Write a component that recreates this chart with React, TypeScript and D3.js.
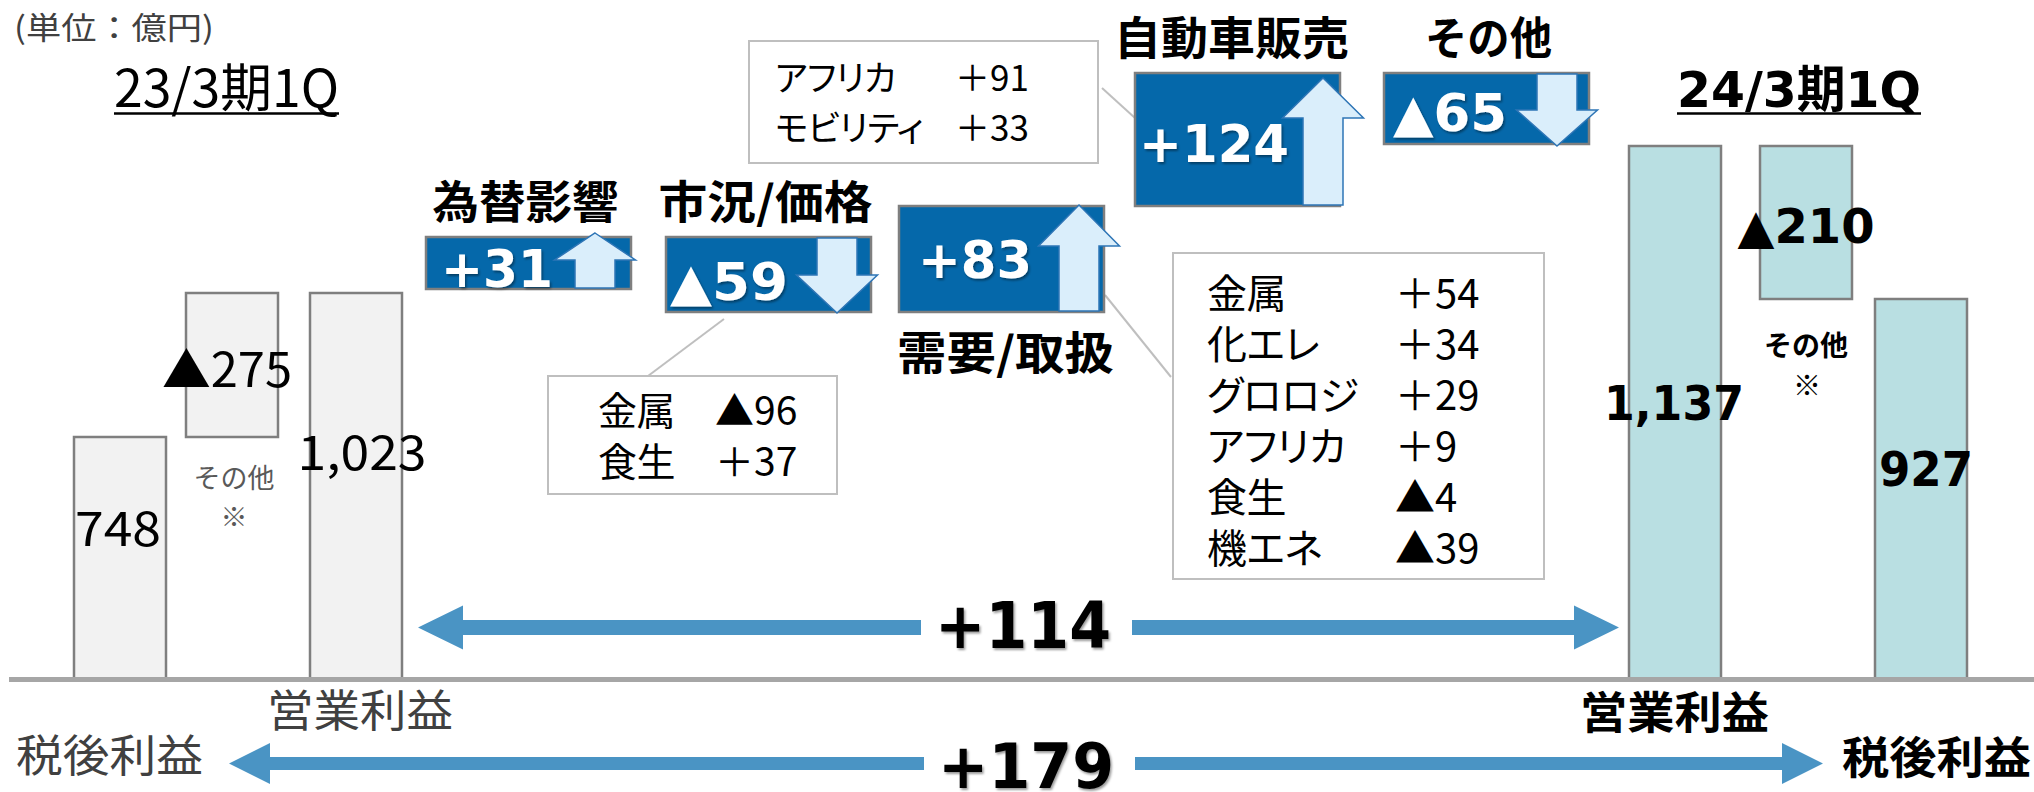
import React from 'react'
import * as d3 from 'd3'

const W = 2034
const H = 792

// labels
const unitLabel = '(単位：億円)'
const periodLabels = ['23/3期1Q', '24/3期1Q']
const metricLabels = ['営業利益', '税後利益']
const otherLabel = 'その他'
const noteMark = '※'

// waterfall bars (億円)
const barKeys = ['tax23', 'other23', 'op23', 'op24', 'other24', 'tax24']
const barFrom = [0, 748, 0, 0, 927, 0]
const barTo = [748, 1023, 1023, 1137, 1137, 927]
const barIsDelta = [false, true, false, false, true, false]

// 営業利益 増減要因
const factorNames = ['為替影響', '市況/価格', '需要/取扱', '自動車販売', 'その他']
const factorValues = [31, -59, 83, 124, -65]

// 内訳
const priceItems = ['金属', '食生']
const priceValues = [-96, 37]
const volumeItems = ['金属', '化エレ', 'グロロジ', 'アフリカ', '食生', '機エネ']
const volumeValues = [54, 34, 29, 9, -4, -39]
const autoItems = ['アフリカ', 'モビリティ']
const autoValues = [91, 33]

const JP = '"Noto Sans CJK JP", sans-serif'
const BOLD = '"DejaVu Sans", "Noto Sans CJK JP", sans-serif'

const BOX_BLUE = '#0568aa'
const BOX_STROKE = '#7f7f7f'
const ARROW_FILL = '#daeefb'
const ARROW_STROKE = '#2e75b6'
const BIG_ARROW = '#4a94c4'
const CALLOUT_STROKE = '#bfbfbf'

const fmt = d3.format(',')
const signed = (v: number) => (v < 0 ? '▲' : '+') + fmt(Math.abs(v))
const signedWide = (v: number) => (v < 0 ? '▲' : '＋') + fmt(Math.abs(v))

const line = d3.line()

// block arrow, vertical (tip above base = up arrow)
function blockArrow(cx: number, tipY: number, baseY: number, endY: number, shaftW = 40, headW = 81) {
  return line([
    [cx, tipY], [cx + headW / 2, baseY], [cx + shaftW / 2, baseY], [cx + shaftW / 2, endY],
    [cx - shaftW / 2, endY], [cx - shaftW / 2, baseY], [cx - headW / 2, baseY],
  ]) + 'Z'
}

// two-headed horizontal arrow with a gap in the middle for the label
function splitArrow(x1: number, x2: number, cy: number, gap0: number, gap1: number, headLen: number, headHalf: number, shaftHalf: number) {
  const left = line([
    [x1, cy], [x1 + headLen, cy - headHalf], [x1 + headLen, cy - shaftHalf], [gap0, cy - shaftHalf],
    [gap0, cy + shaftHalf], [x1 + headLen, cy + shaftHalf], [x1 + headLen, cy + headHalf],
  ])
  const right = line([
    [x2, cy], [x2 - headLen, cy - headHalf], [x2 - headLen, cy - shaftHalf], [gap1, cy - shaftHalf],
    [gap1, cy + shaftHalf], [x2 - headLen, cy + shaftHalf], [x2 - headLen, cy + headHalf],
  ])
  return left + 'Z' + right + 'Z'
}

const Callout = ({ items, values, box, labelX, valueX, baseline, step, size, from, to }: any) => (
  <g>
    <line x1={from[0]} y1={from[1]} x2={to[0]} y2={to[1]} stroke={CALLOUT_STROKE} strokeWidth={2} />
    <rect x={box[0]} y={box[1]} width={box[2]} height={box[3]} fill="#fff" stroke={CALLOUT_STROKE} strokeWidth={2} />
    {items.map((name: string, i: number) => (
      <g key={name + i} fontSize={size} fill="#000">
        <text x={labelX} y={baseline + i * step} style={{ fontFeatureSettings: '"palt"' }} letterSpacing={-0.5}>{name}</text>
        <text x={valueX} y={baseline + i * step}>{signedWide(values[i])}</text>
      </g>
    ))}
  </g>
)

export default function App() {
  // bar scales
  const yDomain = Array.from(new Set([...barFrom, ...barTo])).sort(d3.ascending)
  const yBar = d3.scaleLinear().domain(yDomain).range([679, 437, 299, 293, 146])
  const xBar = d3.scaleOrdinal<string, number>().domain(barKeys).range([74, 186, 310, 1629, 1760, 1875])
  const barW = 92
  const labelDx = [-2, -5, 6, -1, 0, 5]
  const labelDy = [-12, 22, -16, 7.5, 20.5, -3]
  const labelLen = [86, 130, 129, 140, 137, 94]

  // floating factor boxes (cumulative waterfall)
  const levels = [0, ...Array.from(d3.cumsum(factorValues))]
  const levelPx = [289, 237, 312, 206, 73, 144]
  const order = d3.range(levels.length).sort((a, b) => levels[a] - levels[b])
  const yFactor = d3.scaleLinear().domain(order.map(i => levels[i])).range(order.map(i => levelPx[i]))
  const xFactor = d3.scaleOrdinal<string, number>().domain(factorNames).range([426, 666, 899, 1135, 1384])
  const boxW = 205
  const titleBelow = [false, false, true, false, false]
  const titleDx = [-3, -3, 4, -6, 2]
  const titleLen = [186, 214, 217, 235, 127]
  const valueDx = [15, 4, 19, 4, 9]
  const valueDy = [24, 25.5, 19, 22.5, 22.5]
  const valueLen = [112, 118, 114, 150, 114]
  const arrowInset = [36, 34, 25, 17, 32]
  const arrowHead = [27, 38, 41, 40, 36]
  const arrowOver = [4, 1, 1, -5, 2]

  const opDiff = barTo[3] - barTo[2]
  const taxDiff = barTo[5] - barTo[0]
  const baseY = yBar(0)

  return (
    <svg width={W} height={H} style={{ position: 'absolute', left: 0, top: 0, background: '#fff' }} fontFamily={JP}>
      <defs>
        <filter id="shadow" x="-10%" y="-20%" width="130%" height="150%">
          <feDropShadow dx="1.5" dy="2" stdDeviation="1" floodColor="#000" floodOpacity="0.4" />
        </filter>
      </defs>

      <text x={14} y={39} fontSize={31} fill="#404040" textLength={200} lengthAdjust="spacingAndGlyphs">{unitLabel}</text>

      {/* period headers */}
      <text x={114} y={107} fontSize={52} textLength={225} lengthAdjust="spacingAndGlyphs">{periodLabels[0]}</text>
      <line x1={114} x2={339} y1={113.5} y2={113.5} stroke="#000" strokeWidth={2.5} />
      <text x={1677} y={107} fontSize={50} fontWeight={700} fontFamily={BOLD} textLength={244} lengthAdjust="spacingAndGlyphs">{periodLabels[1]}</text>
      <line x1={1677} x2={1921} y1={113.5} y2={113.5} stroke="#000" strokeWidth={2.5} />

      {/* big difference arrows */}
      <path d={splitArrow(xBar('op23') + barW + 16, xBar('op24') - 10, 627.5, 921, 1132, 45, 22, 7.5)} fill={BIG_ARROW} />
      <text x={1023} y={648} textAnchor="middle" fontFamily={BOLD} fontWeight={700} fontSize={64} textLength={176} lengthAdjust="spacingAndGlyphs" filter="url(#shadow)">{signed(opDiff)}</text>
      <path d={splitArrow(229, 1823, 763.5, 924, 1135, 41, 20.5, 6.5)} fill={BIG_ARROW} />
      <text x={1026} y={788} textAnchor="middle" fontFamily={BOLD} fontWeight={700} fontSize={63} textLength={176} lengthAdjust="spacingAndGlyphs" filter="url(#shadow)">{signed(taxDiff)}</text>

      {/* bars */}
      {barKeys.map((k, i) => {
        const right = i >= 3
        const y0 = yBar(barTo[i])
        const y1 = yBar(barFrom[i])
        const cx = xBar(k) + barW / 2
        const label = barIsDelta[i] ? '▲' + fmt(barTo[i] - barFrom[i]) : fmt(barTo[i])
        return (
          <g key={k}>
            <rect x={xBar(k)} y={y0} width={barW} height={y1 - y0} fill={right ? '#b9dfe2' : '#f2f2f2'} stroke={BOX_STROKE} strokeWidth={2.5} />
            <text x={cx + labelDx[i]} y={(y0 + y1) / 2 + labelDy[i]} textAnchor="middle"
              fontSize={48} fontFamily={right ? BOLD : JP} fontWeight={right ? 700 : 400}
              textLength={labelLen[i]} lengthAdjust="spacingAndGlyphs">{label}</text>
            {barIsDelta[i] && (
              <g textAnchor="middle" fontWeight={right ? 700 : 400} fill={right ? '#000' : '#595959'} fontSize={right ? 28 : 27}>
                <text x={cx + (right ? 0 : 2)} y={y1 + (right ? 57 : 51)}>{otherLabel}</text>
                <text x={cx + (right ? 1 : 2)} y={y1 + (right ? 97 : 90)}>{noteMark}</text>
              </g>
            )}
          </g>
        )
      })}
      <line x1={9} x2={W} y1={baseY + 0.5} y2={baseY + 0.5} stroke="#a6a6a6" strokeWidth={5} />

      {/* bottom metric labels */}
      <text x={360} y={727} textAnchor="middle" fontSize={44} fill="#404040" textLength={186} lengthAdjust="spacingAndGlyphs">{metricLabels[0]}</text>
      <text x={16} y={772} fontSize={44} fill="#404040" textLength={187} lengthAdjust="spacingAndGlyphs">{metricLabels[1]}</text>
      <text x={1674.5} y={729} textAnchor="middle" fontSize={44} fontWeight={700} textLength={189} lengthAdjust="spacingAndGlyphs">{metricLabels[0]}</text>
      <text x={1842} y={774} fontSize={44} fontWeight={700} textLength={189} lengthAdjust="spacingAndGlyphs">{metricLabels[1]}</text>

      {/* callouts */}
      <Callout items={priceItems} values={priceValues} box={[548, 376, 289, 118]} labelX={598} valueX={715}
        baseline={425} step={51} size={39} from={[724, 319]} to={[648, 376]} />
      <Callout items={autoItems} values={autoValues} box={[749, 41, 349, 122]} labelX={775} valueX={955}
        baseline={91} step={50} size={35} from={[1102, 88]} to={[1135, 118]} />
      <Callout items={volumeItems} values={volumeValues} box={[1173, 253, 371, 326]} labelX={1207} valueX={1395}
        baseline={308} step={51} size={40} from={[1105, 295]} to={[1171, 377]} />

      {/* factor boxes */}
      {factorNames.map((name, i) => {
        const v = factorValues[i]
        const top = Math.min(yFactor(levels[i]), yFactor(levels[i + 1]))
        const bottom = Math.max(yFactor(levels[i]), yFactor(levels[i + 1]))
        const x = xFactor(name)
        const cx = x + boxW - arrowInset[i]
        const up = v > 0
        const arrow = up
          ? blockArrow(cx, top - arrowOver[i], top - arrowOver[i] + arrowHead[i], bottom - 1)
          : blockArrow(cx, bottom + arrowOver[i], bottom + arrowOver[i] - arrowHead[i], top + 1)
        return (
          <g key={name}>
            <text x={x + boxW / 2 + titleDx[i]} y={titleBelow[i] ? bottom + 58 : top - 18} textAnchor="middle"
              fontSize={45} fontWeight={700} textLength={titleLen[i]} lengthAdjust="spacingAndGlyphs">{name}</text>
            <rect x={x} y={top} width={boxW} height={bottom - top} fill={BOX_BLUE} stroke={BOX_STROKE} strokeWidth={2.5} />
            <text x={x + valueDx[i]} y={(top + bottom) / 2 + valueDy[i]} fill="#fff" fontFamily={BOLD} fontWeight={700}
              fontSize={52} textLength={valueLen[i]} lengthAdjust="spacingAndGlyphs" filter="url(#shadow)">{signed(v)}</text>
            <path d={arrow} fill={ARROW_FILL} stroke={ARROW_STROKE} strokeWidth={1.5} strokeLinejoin="miter" />
          </g>
        )
      })}
    </svg>
  )
}
